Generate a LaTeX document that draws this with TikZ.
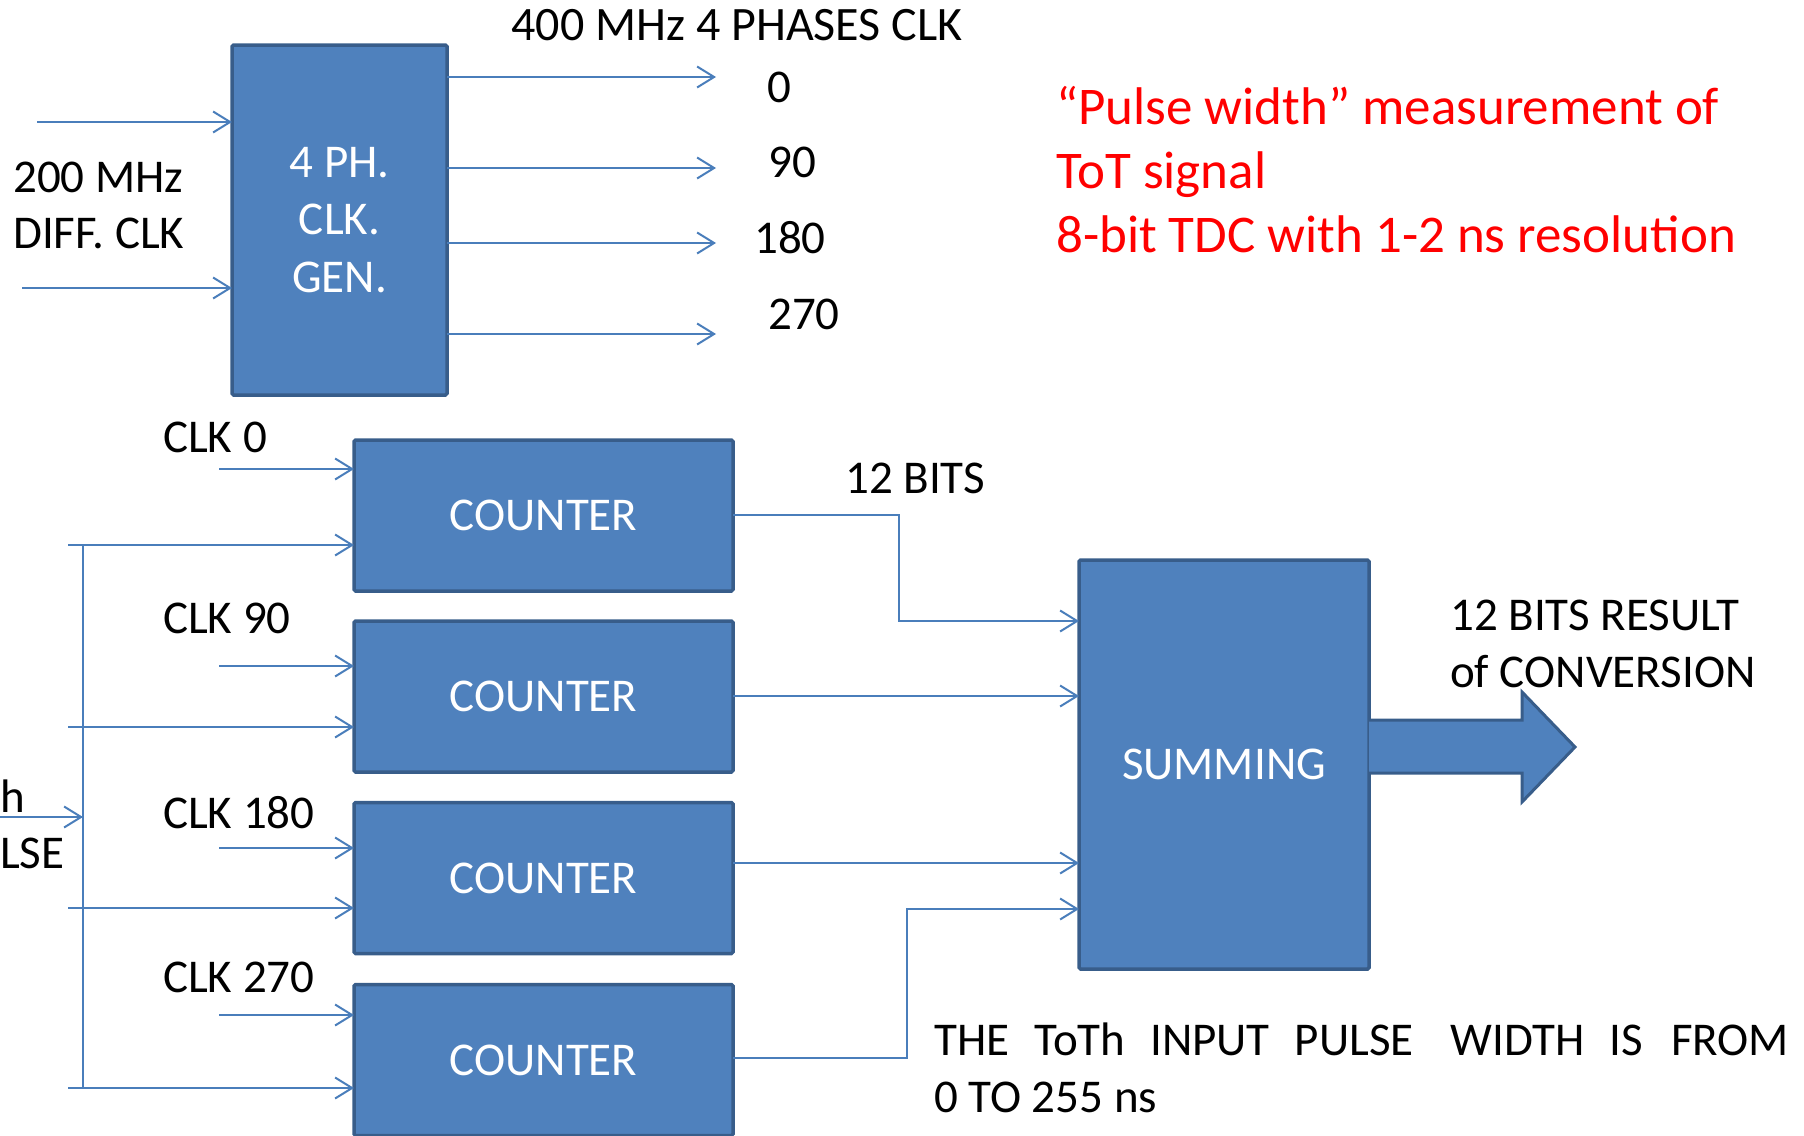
\documentclass[tikz,border=0pt]{standalone}
\usepackage{fontspec}
\setmainfont{Carlito}
\usetikzlibrary{arrows.meta}
\definecolor{bfill}{HTML}{4F81BD}
\definecolor{bdraw}{HTML}{385D8A}
\definecolor{lcol}{HTML}{4A7EBB}
\definecolor{redtxt}{HTML}{FF0000}
\begin{document}
\begin{tikzpicture}[x=1pt,y=-1pt,
  blockbox/.style={draw=bdraw, fill=bfill, line width=3.5pt, rounded corners=1.5pt, outer sep=0pt, inner sep=0pt,
    text=white, align=center, font=\fontsize{47}{57.5}\selectfont},
  conn/.style={draw=lcol, line width=2pt, -{Straight Barb[length=17pt,width=21pt,line width=2pt]}},
  wire/.style={draw=lcol, line width=2pt},
  lbl/.style={inner sep=0pt, anchor=base west, font=\fontsize{47}{56}\selectfont},
  rlbl/.style={inner sep=0pt, anchor=base west, text=redtxt, font=\fontsize{53}{64}\selectfont}]
\useasboundingbox (0,0) rectangle (1804,1135);

% clock generator
\node[blockbox, minimum width=215pt, minimum height=350pt] (gen) at (339.5,220) {4 PH.\\CLK.\\GEN.};
\coordinate (in1) at (37,122);
\coordinate (in2) at (22,288);
\draw[conn] (in1) -- (gen.west |- in1);
\draw[conn] (in2) -- (gen.west |- in2);
\node[lbl] (l200) at (13,192) {200 MHz};
\node[lbl] (ldiff) at (13,248) {DIFF. CLK};

% phase outputs
\foreach \y/\n in {77/a,168/b,243/c,334/d}{
  \coordinate (o\n) at (716,\y);
  \draw[conn] (gen.east |- o\n) -- (o\n);
}
\node[lbl, anchor=base, font=\fontsize{48}{56}\selectfont] (title) at (737,40) {400 MHz 4 PHASES CLK};
\node[lbl, anchor=base] (p0) at (779,102) {0};
\node[lbl, anchor=base] (p90) at (792,177) {90};
\node[lbl, anchor=base] (p180) at (790,253) {180};
\node[lbl, anchor=base] (p270) at (804,329) {270};

% red text
\node[rlbl] (r1) at (1056,124) {“Pulse width” measurement of};
\node[rlbl] (r2) at (1056,188) {ToT signal};
\node[rlbl] (r3) at (1056,252) {8-bit TDC with 1-2 ns resolution};

% counters
\node[blockbox, minimum width=379pt, minimum height=151pt] (c1) at (543.5,515.5) {COUNTER};
\node[blockbox, minimum width=379pt, minimum height=151pt] (c2) at (543.5,696.5) {COUNTER};
\node[blockbox, minimum width=379pt, minimum height=151pt] (c3) at (543.5,878) {COUNTER};
\node[blockbox, minimum width=379pt, minimum height=151pt] (c4) at (543.5,1060) {COUNTER};

% clock inputs
\node[lbl] (k0) at (163,452) {CLK 0};
\node[lbl] (k90) at (163,633) {CLK 90};
\node[lbl] (k180) at (163,828) {CLK 180};
\node[lbl] (k270) at (163,992) {CLK 270};
\coordinate (ck1) at (219,469);
\coordinate (ck2) at (219,666);
\coordinate (ck3) at (219,848);
\coordinate (ck4) at (219,1015);
\draw[conn] (ck1) -- (c1.west |- ck1);
\draw[conn] (ck2) -- (c2.west |- ck2);
\draw[conn] (ck3) -- (c3.west |- ck3);
\draw[conn] (ck4) -- (c4.west |- ck4);

% pulse bus
\coordinate (bt) at (83,545);
\coordinate (bb) at (83,1088);
\coordinate (pin) at (0,817);
\draw[wire] (bt) -- (bb);
\draw[conn] (pin) -- (bt |- pin);
\foreach \y/\c in {545/c1,727/c2,908/c3,1088/c4}{
  \coordinate (ps) at (68,\y);
  \draw[conn] (ps) -- (\c.west |- ps);
}
\node[lbl] (pt1) at (0,812) {h};
\node[lbl] (pt2) at (0,868) {LSE};

% summing
\node[blockbox, minimum width=290pt, minimum height=409pt] (sum) at (1224,764.5) {SUMMING};
\draw[conn] (c1.east |- 0,515) -| (899,621) -- (sum.west |- 0,621);
\draw[conn] (c2.east |- 0,696) -- (sum.west |- 0,696);
\draw[conn] (c3.east |- 0,863) -- (sum.west |- 0,863);
\draw[conn] (c4.east |- 0,1058) -| (907,909) -- (sum.west |- 0,909);
\node[lbl] (bits) at (845,493) {12 BITS};

% big output arrow
\fill[bfill] (sum.east |- 0,720) -- (1522,720) -- (1522,692) -- (1575,747) -- (1522,802) -- (1522,773) -- (sum.east |- 0,773) -- cycle;
\draw[bdraw, line width=3pt, line join=miter] (sum.east |- 0,720) -- (1522,720) -- (1522,692) -- (1575,747) -- (1522,802) -- (1522,773) -- (sum.east |- 0,773);
\node[lbl] (res1) at (1450,630) {12 BITS RESULT};
\node[lbl] (res2) at (1450,687) {of CONVERSION};

% bottom note
\node[lbl] (n1) at (934,1055) {\makebox[855pt][s]{THE\hspace{22pt plus 1pt}ToTh\hspace{22pt plus 1pt}INPUT\hspace{22pt plus 1pt}PULSE\hspace{34pt plus 1pt}WIDTH\hspace{22pt plus 1pt}IS\hspace{25pt plus 1pt}FROM}};
\node[lbl] (n2) at (934,1112) {0 TO 255 ns};
\end{tikzpicture}
\end{document}
